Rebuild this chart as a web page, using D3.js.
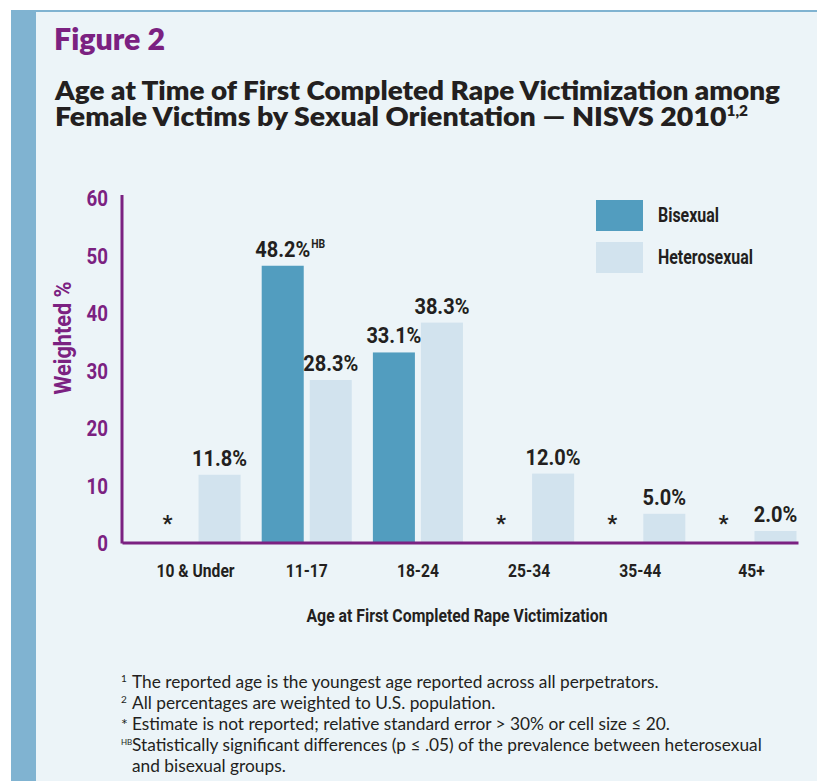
<!DOCTYPE html>
<html>
<head>
<meta charset="utf-8">
<script src="https://cdn.jsdelivr.net/npm/d3@7"></script>
<style>
  html, body { margin: 0; padding: 0; background: #ffffff; }
  svg { display: block; }
</style>
</head>
<body>
<div id="chart"></div>
<script>
// chart values
const categories = ['10 & Under', '11-17', '18-24', '25-34', '35-44', '45+'];
const seriesNames = ['Bisexual', 'Heterosexual'];
const bisexual = [null, 48.2, 33.1, null, null, null];
const heterosexual = [11.8, 28.3, 38.3, 12.0, 5.0, 2.0];
const bisexualNotes = ['', 'HB', '', '', '', ''];
const yTicks = [0, 10, 20, 30, 40, 50, 60];
const titleLines = [
  'Age at Time of First Completed Rape Victimization among',
  'Female Victims by Sexual Orientation \u2014 NISVS 2010'
];
const footnotes = [
  { mark: '1', sup: true, text: 'The reported age is the youngest age reported across all perpetrators.' },
  { mark: '2', sup: true, text: 'All percentages are weighted to U.S. population.' },
  { mark: '*', sup: false, text: 'Estimate is not reported; relative standard error > 30% or cell size \u2264 20.' },
  { mark: 'HB', sup: true, text: 'Statistically significant differences (p \u2264 .05) of the prevalence between heterosexual' },
  { mark: '', sup: false, text: 'and bisexual groups.' }
];

const W = 817, H = 781;
const purple = '#7b2181';
const ink = '#231f20';
const colors = { Bisexual: '#529dbf', Heterosexual: '#d2e3ee' };
const narrow = "Roboto, 'Liberation Sans', sans-serif";
const plain = "Lato, 'Open Sans', sans-serif";

const svg = d3.select('#chart').append('svg')
  .attr('width', W)
  .attr('height', H);

// frame
svg.append('rect').attr('x', 11).attr('y', 10).attr('width', W - 11).attr('height', H - 10).attr('fill', '#80b3d1');
svg.append('rect').attr('x', 36).attr('y', 12).attr('width', W - 36).attr('height', H - 12).attr('fill', '#ecf4f8');

// set a text's drawn width
function fit(sel, width) {
  sel.attr('textLength', width).attr('lengthAdjust', 'spacingAndGlyphs');
}

// shrink a text horizontally by a factor
function narrowBy(sel, k) {
  sel.each(function () {
    const w = this.getComputedTextLength();
    d3.select(this).attr('textLength', w * k).attr('lengthAdjust', 'spacingAndGlyphs');
  });
}

// condense every text in sel by the ratio that gives its first text the sample width
function squeeze(sel, sampleWidth) {
  const k = sampleWidth / sel.node().getComputedTextLength();
  narrowBy(sel, k);
  return k;
}

svg.append('text')
  .attr('x', 54).attr('y', 50)
  .attr('font-family', plain).attr('font-weight', 800).attr('font-size', 31)
  .attr('fill', purple)
  .call(fit, 111)
  .text('Figure 2');

const t1 = svg.append('text')
  .attr('x', 55).attr('y', 100)
  .attr('font-family', plain).attr('font-weight', 800).attr('font-size', 26)
  .attr('fill', ink)
  .text(titleLines[0]);
fit(t1, 725);

const t2 = svg.append('text')
  .attr('x', 55).attr('y', 126)
  .attr('font-family', plain).attr('font-weight', 800).attr('font-size', 26)
  .attr('fill', ink);
t2.append('tspan').text(titleLines[1]);
t2.append('tspan').attr('font-size', 14).attr('dy', -10).text('1,2');
fit(t2, 693);

// scales
const x0 = d3.scaleBand()
  .domain(categories)
  .range([122, 798])
  .paddingInner(0.19)
  .paddingOuter(0.135)
  .align(0.95);

const x1 = d3.scaleBand()
  .domain(seriesNames)
  .range([0, x0.bandwidth()])
  .paddingInner(0.125);

const y = d3.scaleLinear()
  .domain([0, 60])
  .range([542.5, 198]);

// y axis
const yAxis = svg.append('g')
  .attr('transform', 'translate(122,0)')
  .call(d3.axisLeft(y).tickValues(yTicks).tickSize(0).tickPadding(14));
yAxis.select('.domain')
  .attr('d', `M0,${y(60) - 3}V${y(0) + 1}`)
  .attr('stroke', purple).attr('stroke-width', 3);
const yTickText = yAxis.selectAll('text')
  .attr('font-family', narrow).attr('font-weight', 700).attr('font-size', 22)
  .attr('fill', purple).attr('dy', '0.36em');
narrowBy(yTickText, 0.85);

const yTitle = svg.append('text')
  .attr('transform', `translate(71,${338}) rotate(-90)`)
  .attr('text-anchor', 'middle')
  .attr('font-family', narrow).attr('font-weight', 700).attr('font-size', 24)
  .attr('fill', purple)
  .text('Weighted %');
fit(yTitle, 113);

// bars
const rows = categories.map((c, i) => ({
  category: c,
  values: [
    { series: 'Bisexual', value: bisexual[i], note: bisexualNotes[i] },
    { series: 'Heterosexual', value: heterosexual[i], note: '' }
  ]
}));

const groups = svg.append('g').selectAll('g')
  .data(rows)
  .join('g')
  .attr('transform', d => `translate(${x0(d.category)},0)`);

groups.selectAll('rect')
  .data(d => d.values.filter(v => v.value !== null))
  .join('rect')
  .attr('x', d => x1(d.series))
  .attr('y', d => y(d.value))
  .attr('width', x1.bandwidth())
  .attr('height', d => y(0) - y(d.value))
  .attr('fill', d => colors[d.series]);

const labels = groups.selectAll('text.value')
  .data(d => d.values.filter(v => v.value !== null))
  .join('text')
  .attr('class', 'value')
  .attr('x', d => x1(d.series) + x1.bandwidth() / 2)
  .attr('y', d => y(d.value) - 9)
  .attr('text-anchor', 'middle')
  .attr('font-family', narrow).attr('font-weight', 700).attr('font-size', 22)
  .attr('fill', ink)
  .text(d => d.value.toFixed(1) + '%');
squeeze(labels, 55);

groups.selectAll('text.note')
  .data(d => d.values.filter(v => v.value !== null && v.note))
  .join('text')
  .attr('class', 'note')
  .attr('x', function (d) {
    const main = d3.select(this.parentNode).selectAll('text.value').filter(v => v === d).node();
    const b = main.getBBox();
    return b.x + b.width + 1;
  })
  .attr('y', d => y(d.value) - 18)
  .attr('font-family', narrow).attr('font-weight', 700).attr('font-size', 13)
  .attr('fill', ink)
  .text(d => d.note)
  .call(narrowBy, 0.8);

// not reported markers
groups.selectAll('text.star')
  .data(d => d.values.filter(v => v.value === null))
  .join('text')
  .attr('class', 'star')
  .attr('x', d => x1(d.series) + x1.bandwidth() / 2 - 4)
  .attr('y', y(0) - 12)
  .attr('text-anchor', 'middle')
  .attr('font-family', narrow).attr('font-weight', 700).attr('font-size', 22)
  .attr('fill', ink)
  .text('*');

// x axis
const xAxis = svg.append('g')
  .attr('transform', `translate(0,${y(0)})`)
  .call(d3.axisBottom(x0).tickSize(0).tickPadding(21));
xAxis.select('.domain')
  .attr('stroke', purple).attr('stroke-width', 3);
const xTickText = xAxis.selectAll('text')
  .attr('font-family', narrow).attr('font-weight', 700).attr('font-size', 18.5)
  .attr('fill', ink);
squeeze(xTickText, 78);

const xTitle = svg.append('text')
  .attr('x', 457).attr('y', 622)
  .attr('text-anchor', 'middle')
  .attr('font-family', narrow).attr('font-weight', 700).attr('font-size', 18.5)
  .attr('fill', ink)
  .text('Age at First Completed Rape Victimization');
fit(xTitle, 301);

// legend
const legend = svg.append('g')
  .selectAll('g')
  .data(seriesNames)
  .join('g')
  .attr('transform', (d, i) => `translate(596,${200 + i * 42})`);
legend.append('rect')
  .attr('width', 47).attr('height', 31)
  .attr('fill', d => colors[d]);
const legendText = legend.append('text')
  .attr('x', 62).attr('y', 22)
  .attr('font-family', narrow).attr('font-weight', 700).attr('font-size', 19.5)
  .attr('fill', ink)
  .text(d => d);
const legendK = 95 / legendText.filter(d => d === 'Heterosexual').node().getComputedTextLength();
narrowBy(legendText, legendK);

// footnotes
const notes = svg.append('g').attr('transform', 'translate(121,0)');
const noteRows = notes.selectAll('text')
  .data(footnotes)
  .join('text')
  .attr('x', 0)
  .attr('y', (d, i) => 688 + i * 21)
  .attr('font-family', plain).attr('font-size', 16)
  .attr('fill', ink);
noteRows.append('tspan')
  .attr('font-size', d => d.mark === 'HB' ? 8 : (d.sup ? 10 : 16))
  .attr('dy', d => d.sup ? -6 : 0)
  .text(d => d.mark);
noteRows.append('tspan')
  .attr('class', 'body')
  .attr('x', 11)
  .attr('dy', d => d.sup ? 6 : 0)
  .text(d => d.text);

// scale footnote type so the first line spans like the original
const firstW = noteRows.select('tspan.body').node().getComputedTextLength();
const k = 527 / firstW;
noteRows.selectAll('tspan.body').attr('font-size', 16 * k);
</script>
</body>
</html>
